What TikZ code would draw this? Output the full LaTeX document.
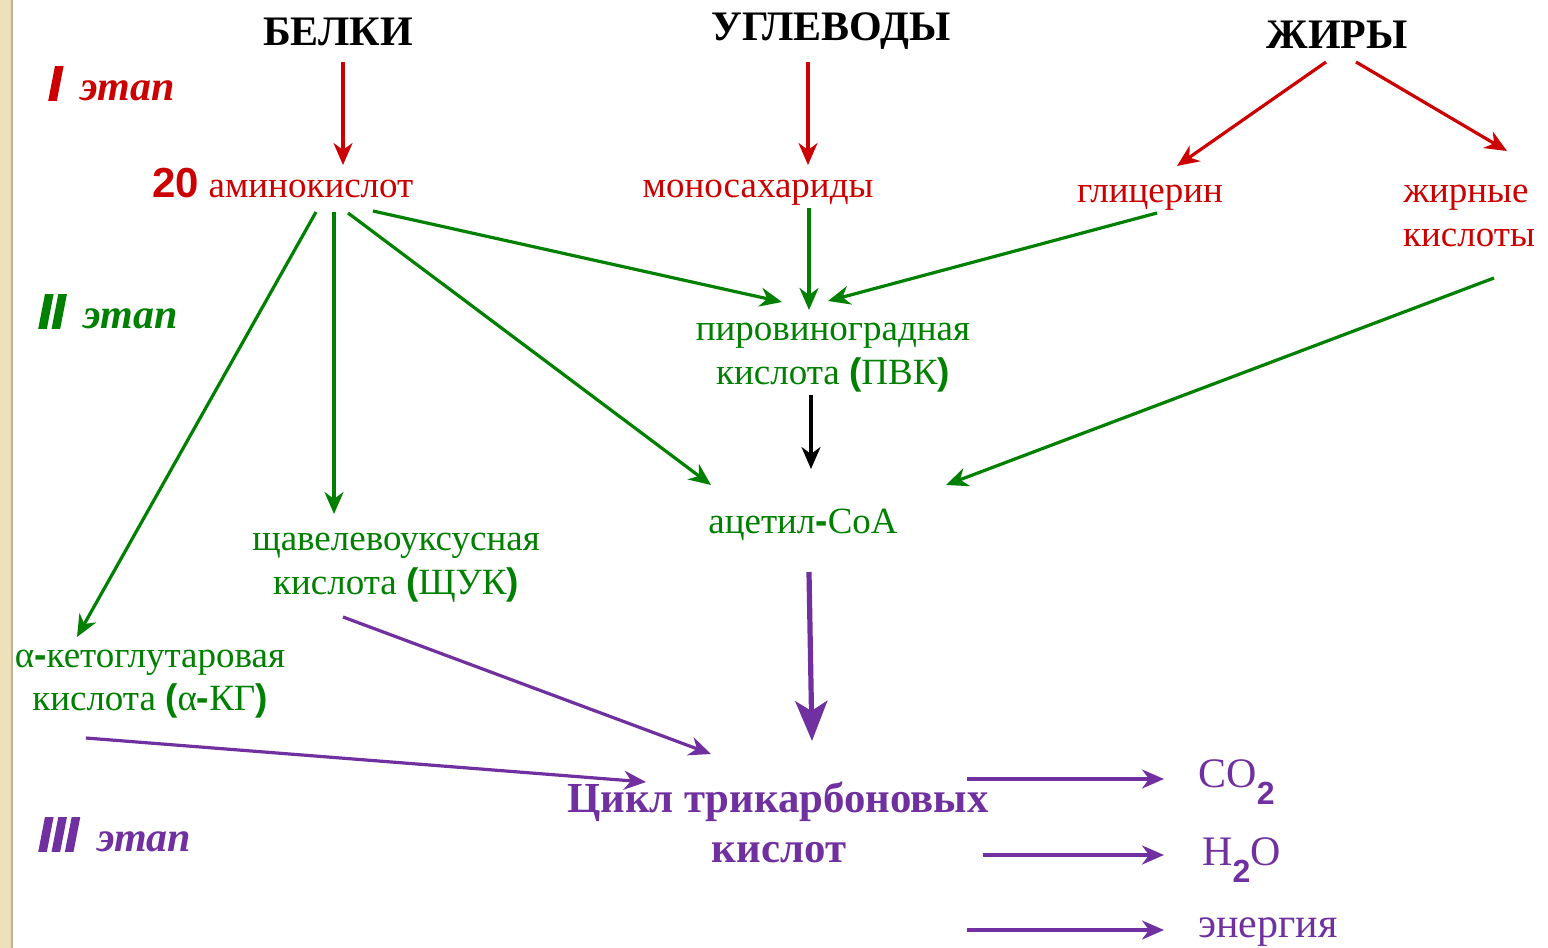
\documentclass[tikz,border=0pt]{standalone}
\usepackage{fontspec}
\setmainfont{Liberation Serif}
\newfontfamily\sansf{Liberation Sans}
\newfontfamily\heavyf{Liberation Sans}[BoldItalicFeatures={FakeBold=3.5}]
\usetikzlibrary{arrows.meta}
\definecolor{cred}{HTML}{CC0000}
\definecolor{cgreen}{HTML}{008000}
\definecolor{cpurple}{HTML}{7030A0}
\definecolor{cbeige}{HTML}{EDE1BA}
\newcommand{\bsans}[1]{{\sansf\bfseries #1}}
\newcommand{\stnum}[1]{{\heavyf\bfseries\itshape\fontsize{24}{26}\selectfont #1}\hspace{0.45em}}
\newcommand{\subtwo}{\raisebox{-0.42em}{\sansf\bfseries\fontsize{16}{16}\selectfont 2}}
\begin{document}
\begin{tikzpicture}[x=0.5pt,y=-0.5pt,
  txt/.style={inner sep=0pt, anchor=base, font=\fontsize{18.5}{22}\selectfont},
  head/.style={inner sep=0pt, anchor=base, font=\fontsize{21}{26}\selectfont\bfseries},
  stage/.style={inner sep=0pt, anchor=base west, font=\fontsize{21}{26}\selectfont\bfseries\itshape},
  prod/.style={inner sep=0pt, anchor=base west, font=\fontsize{21}{26}\selectfont, text=cpurple},
  tip/.style={-{Stealth[length=11pt,width=9.5pt,inset=3.5pt]}},
  rarr/.style={tip, draw=cred, line width=1.6pt},
  garr/.style={tip, draw=cgreen, line width=1.6pt},
  parr/.style={tip, draw=cpurple, line width=1.6pt},
]
\useasboundingbox (0,0) rectangle (1548,948);
\fill[white] (0,0) rectangle (1548,948);
\fill[cbeige] (0,0) rectangle (12,948);
\draw[cbeige!80!black, line width=0.6pt] (12,0) -- (12,948);

% headers
\node[head] (belki) at (338,45) {БЕЛКИ};
\node[head] (uglev) at (831,40) {УГЛЕВОДЫ};
\node[head] (zhiry) at (1337,48) {ЖИРЫ};

% stage labels
\node[stage, text=cred] (st1) at (48,100) {\stnum{I}\rmfamily этап};
\node[stage, text=cgreen] (st2) at (38,328) {\stnum{II}\rmfamily этап};
\node[stage, text=cpurple] (st3) at (38,851) {\stnum{III}\rmfamily этап};

% level 1
\node[txt, text=cred] (amino) at (283,197) {{\sansf\bfseries\fontsize{21}{22}\selectfont 20} аминокислот};
\node[txt, text=cred] (mono) at (758,197) {моносахариды};
\node[txt, text=cred] (glic) at (1150,202) {глицерин};
\node[txt, text=cred] (zhk1) at (1466,202) {жирные};
\node[txt, text=cred] (zhk2) at (1469,246) {кислоты};

% level 2
\node[txt, text=cgreen] (pvk1) at (833,340) {пировиноградная};
\node[txt, text=cgreen] (pvk2) at (833,384) {кислота \bsans{(}ПВК\bsans{)}};
\node[txt, text=cgreen] (acoa) at (803,533) {ацетил\bsans{-}CoA};
\node[txt, text=cgreen] (shuk1) at (396,550) {щавелевоуксусная};
\node[txt, text=cgreen] (shuk2) at (396,594) {кислота \bsans{(}ЩУК\bsans{)}};
\node[txt, text=cgreen] (akg1) at (150,667) {α\bsans{-}кетоглутаровая};
\node[txt, text=cgreen] (akg2) at (150,710) {кислота \bsans{(}α\bsans{-}КГ\bsans{)}};

% level 3
\node[txt, font=\fontsize{21.4}{26}\selectfont\bfseries, text=cpurple] (tca1) at (778,812) {Цикл трикарбоновых};
\node[txt, font=\fontsize{21.4}{26}\selectfont\bfseries, text=cpurple] (tca2) at (779,862) {кислот};
\node[prod] (co2) at (1198,787) {CO\subtwo};
\node[prod] (h2o) at (1202,865) {H\subtwo O};
\node[prod] (energy) at (1198,937) {энергия};

% arrow endpoints
\coordinate (b0) at (343,62);   \coordinate (b1) at (343,165);
\coordinate (u0) at (808,62);   \coordinate (u1) at (808,165);
\coordinate (z0) at (1326,62);  \coordinate (z1) at (1177,166);
\coordinate (z2) at (1356,62);  \coordinate (z3) at (1507,151);
\coordinate (a0) at (316,212);  \coordinate (a1) at (77,637);
\coordinate (a2) at (334,212);  \coordinate (a3) at (334,514);
\coordinate (a4) at (348,213);  \coordinate (a5) at (711,485);
\coordinate (a6) at (373,211);  \coordinate (a7) at (782,302);
\coordinate (m0) at (809,208);  \coordinate (m1) at (809,310);
\coordinate (g0) at (1157,213); \coordinate (g1) at (828,301);
\coordinate (f0) at (1494,278); \coordinate (f1) at (946,485);
\coordinate (p0) at (811,395);  \coordinate (p1) at (811,469);
\coordinate (c0) at (809,572);  \coordinate (c1) at (812,741);
\coordinate (s0) at (343,617);  \coordinate (s1) at (711,754);
\coordinate (k0) at (86,738);   \coordinate (k1) at (646,782);
\coordinate (o1) at (967,779);  \coordinate (o2) at (1164,779);
\coordinate (o3) at (983,855);  \coordinate (o4) at (1164,855);
\coordinate (o5) at (967,930);  \coordinate (o6) at (1164,930);

% red arrows
\draw[rarr] (b0) -- (b1);
\draw[rarr] (u0) -- (u1);
\draw[rarr] (z0) -- (z1);
\draw[rarr] (z2) -- (z3);
% green arrows
\draw[garr] (a0) -- (a1);
\draw[garr] (a2) -- (a3);
\draw[garr] (a4) -- (a5);
\draw[garr] (a6) -- (a7);
\draw[garr] (m0) -- (m1);
\draw[garr] (g0) -- (g1);
\draw[garr] (f0) -- (f1);
% black
\draw[tip, line width=1.6pt] (p0) -- (p1);
% purple
\draw[-{Stealth[length=20pt,width=16pt,inset=5pt]}, draw=cpurple, fill=cpurple, line width=2.6pt] (c0) -- (c1);
\draw[parr] (s0) -- (s1);
\draw[parr] (k0) -- (k1);
\draw[parr] (o1) -- (o2);
\draw[parr] (o3) -- (o4);
\draw[parr] (o5) -- (o6);
\end{tikzpicture}
\end{document}
